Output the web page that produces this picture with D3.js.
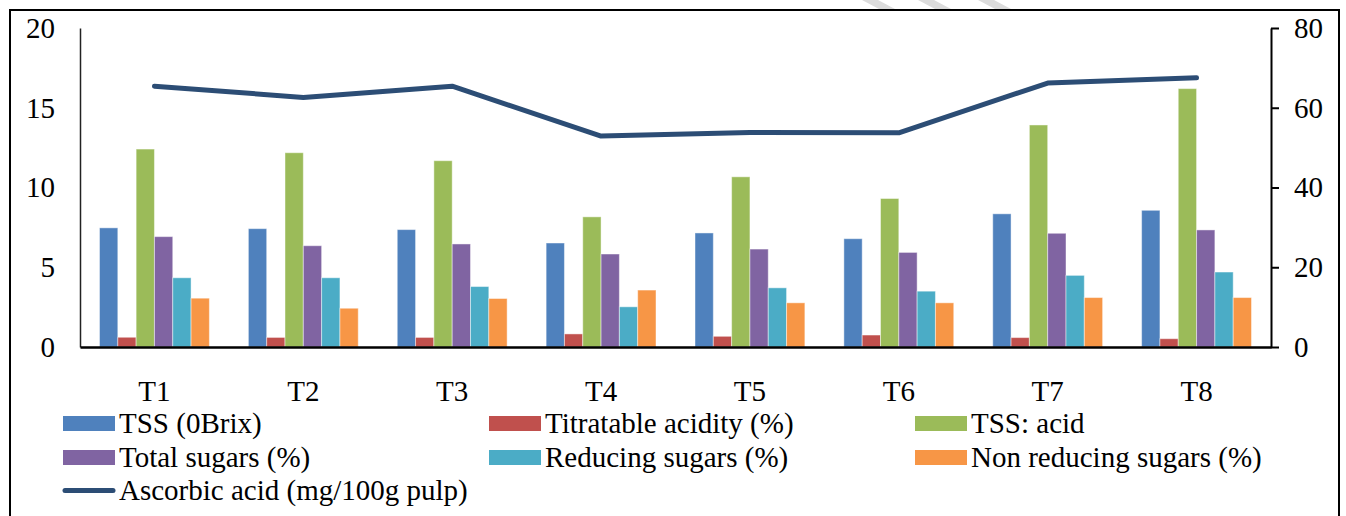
<!DOCTYPE html>
<html>
<head>
<meta charset="utf-8">
<script src="https://cdn.jsdelivr.net/npm/d3@7"></script>
<style>
  body { margin: 0; background: #fff; }
</style>
</head>
<body>
<div id="chart"></div>
<script>
// treatments
const categories = ["T1", "T2", "T3", "T4", "T5", "T6", "T7", "T8"];

// bar series (left axis)
const tss = [7.47, 7.42, 7.36, 6.52, 7.15, 6.79, 8.35, 8.57];
const acidity = [0.61, 0.60, 0.60, 0.82, 0.67, 0.75, 0.59, 0.52];
const tssAcid = [12.41, 12.18, 11.68, 8.16, 10.67, 9.31, 13.92, 16.20];
const totalSugars = [6.92, 6.35, 6.46, 5.83, 6.14, 5.93, 7.13, 7.34];
const reducingSugars = [4.34, 4.34, 3.79, 2.52, 3.71, 3.50, 4.49, 4.70];
const nonReducingSugars = [3.06, 2.43, 3.04, 3.57, 2.77, 2.77, 3.10, 3.10];

// line series (right axis)
const ascorbic = [65.4, 62.6, 65.4, 52.9, 53.8, 53.7, 66.2, 67.5];

const leftTicks = [0, 5, 10, 15, 20];
const rightTicks = [0, 20, 40, 60, 80];

const barSeries = [
  { label: "TSS (0Brix)", values: tss, color: "#4f81bd" },
  { label: "Titratable acidity (%)", values: acidity, color: "#c0504d" },
  { label: "TSS: acid", values: tssAcid, color: "#9bbb59" },
  { label: "Total sugars (%)", values: totalSugars, color: "#8064a2" },
  { label: "Reducing sugars (%)", values: reducingSugars, color: "#4bacc6" },
  { label: "Non reducing sugars (%)", values: nonReducingSugars, color: "#f79646" }
];
const lineSeries = { label: "Ascorbic acid (mg/100g pulp)", values: ascorbic, color: "#2c4d75" };

const width = 1346, height = 516;
const plot = { left: 80, right: 1271, top: 28, bottom: 347 };
const fontSize = 29;
const serif = "'Liberation Serif', 'Times New Roman', Times, serif";

const svg = d3.select("#chart").append("svg")
  .attr("width", width)
  .attr("height", height);

// faint watermark dashes peeking above the frame
const wm = svg.append("g").attr("fill", "#dcdcdc");
[862, 918, 978].forEach(function(x0) {
  wm.append("path").attr("d", "M" + x0 + ",0 L" + (x0 + 16) + ",0 L" + (x0 + 33) + ",9 L" + (x0 + 17) + ",9 Z");
});

// outer frame
svg.append("rect")
  .attr("x", 10).attr("y", 10)
  .attr("width", 1329).attr("height", 530)
  .attr("fill", "#fff")
  .attr("stroke", "#000")
  .attr("stroke-width", 2);

let x = d3.scaleBand()
  .domain(categories)
  .range([plot.left, plot.right])
  .paddingInner(0.262)
  .paddingOuter(0.131);

let xSub = d3.scaleBand()
  .domain(barSeries.map(function(s) { return s.label; }))
  .range([0, x.bandwidth()]);

let yLeft = d3.scaleLinear().domain([0, 20]).range([plot.bottom, plot.top]);
let yRight = d3.scaleLinear().domain([0, 80]).range([plot.bottom, plot.top]);

// bars
let groups = svg.append("g")
  .selectAll("g")
  .data(categories)
  .enter().append("g")
  .attr("transform", function(d) { return "translate(" + x(d) + ",0)"; });

groups.selectAll("rect")
  .data(function(d, i) {
    return barSeries.map(function(s) { return { label: s.label, color: s.color, value: s.values[i] }; });
  })
  .enter().append("rect")
  .attr("x", function(d) { return xSub(d.label); })
  .attr("y", function(d) { return yLeft(d.value); })
  .attr("width", xSub.bandwidth())
  .attr("height", function(d) { return plot.bottom - yLeft(d.value); })
  .attr("fill", function(d) { return d.color; })
  .attr("stroke", "#fff")
  .attr("stroke-opacity", 0.45)
  .attr("stroke-width", 1);

function styleText(sel) {
  sel.style("font-family", serif)
    .style("font-size", fontSize + "px")
    .attr("fill", "#000");
}

// left axis: line and labels, no ticks
let gLeft = svg.append("g")
  .attr("transform", "translate(" + plot.left + ",0)")
  .call(d3.axisLeft(yLeft).tickValues(leftTicks).tickSize(0).tickPadding(25));
gLeft.select(".domain").attr("stroke", "#222").attr("stroke-width", 1.5);
gLeft.selectAll("text").call(styleText);

// right axis with outward ticks
let gRight = svg.append("g")
  .attr("transform", "translate(" + plot.right + ",0)")
  .call(d3.axisRight(yRight).tickValues(rightTicks).tickSize(8).tickSizeOuter(0).tickPadding(15));
gRight.select(".domain").attr("stroke", "#000").attr("stroke-width", 2);
gRight.selectAll(".tick line").attr("stroke", "#000").attr("stroke-width", 2);
gRight.selectAll("text").call(styleText);

// category axis
let gBottom = svg.append("g")
  .attr("transform", "translate(0," + plot.bottom + ")")
  .call(d3.axisBottom(x).tickSize(0).tickPadding(33));
gBottom.select(".domain").attr("stroke", "#000").attr("stroke-width", 2.5);
gBottom.selectAll("text").call(styleText);

// ascorbic acid line
let line = d3.line()
  .x(function(d, i) { return x(categories[i]) + x.bandwidth() / 2; })
  .y(function(d) { return yRight(d); });

svg.append("path")
  .datum(lineSeries.values)
  .attr("d", line)
  .attr("fill", "none")
  .attr("stroke", lineSeries.color)
  .attr("stroke-width", 5)
  .attr("stroke-linecap", "round")
  .attr("stroke-linejoin", "round");

// legend
const legendCols = [63, 489, 915];
const legendRows = [423.5, 457.5, 490.5];
let legendItems = barSeries.map(function(s) { return { label: s.label, color: s.color, type: "bar" }; });
legendItems.push({ label: lineSeries.label, color: lineSeries.color, type: "line" });

let legend = svg.append("g")
  .selectAll("g")
  .data(legendItems)
  .enter().append("g")
  .attr("transform", function(d, i) {
    return "translate(" + legendCols[i % 3] + "," + legendRows[Math.floor(i / 3)] + ")";
  });

legend.filter(function(d) { return d.type === "bar"; })
  .append("rect")
  .attr("x", 0).attr("y", -7.5)
  .attr("width", 52).attr("height", 15)
  .attr("fill", function(d) { return d.color; });

legend.filter(function(d) { return d.type === "line"; })
  .append("line")
  .attr("x1", 2).attr("x2", 50)
  .attr("stroke", function(d) { return d.color; })
  .attr("stroke-width", 5)
  .attr("stroke-linecap", "round");

legend.append("text")
  .attr("x", 56)
  .attr("dy", "0.33em")
  .call(styleText)
  .text(function(d) { return d.label; });
</script>
</body>
</html>
